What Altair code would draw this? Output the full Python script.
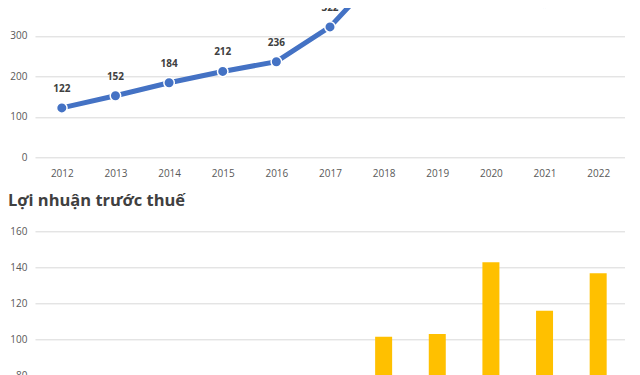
import altair as alt
import pandas as pd

years = [str(y) for y in range(2012, 2023)]

rev_years = ["2012", "2013", "2014", "2015", "2016", "2017", "2018", "2019", "2020", "2021"]
rev_values = [122, 152, 184, 212, 236, 322, 464, 430, 391, 381]

profit_years = ["2018", "2019", "2020", "2021", "2022"]
profit_values = [101.4, 102.9, 142.8, 115.9, 136.7]

top_ticks = [0, 100, 200, 300]
bottom_ticks = [80, 100, 120, 140, 160]
bottom_title = "Lợi nhuận trước thuế"

FONT = "Open Sans"
GRID = "#D9D9D9"
LABEL = "#595959"
BLUE = "#4472C4"
GOLD = "#FFC000"

rev = pd.DataFrame({"year": rev_years, "value": rev_values})
profit = pd.DataFrame({"year": profit_years, "value": profit_values})

x_top = alt.X(
    "year:N",
    scale=alt.Scale(type="point", domain=years, padding=0.5),
    axis=alt.Axis(title=None, labelAngle=0, ticks=False, domain=False, grid=False,
                  labelPadding=11, labelColor=LABEL, labelFontSize=10, labelFont=FONT),
)
y_top = alt.Y(
    "value:Q",
    scale=alt.Scale(domain=[0, 400], nice=False, zero=True),
    axis=alt.Axis(values=top_ticks, title=None, ticks=False, domain=False,
                  gridColor=GRID, labelColor=LABEL, labelPadding=8,
                  labelFontSize=10, labelFont=FONT),
)

base_top = alt.Chart(rev).encode(x=x_top, y=y_top)
line = base_top.mark_line(color=BLUE, strokeWidth=5, clip=True)
pts = base_top.mark_circle(color=BLUE, size=110, opacity=1, stroke="white",
                           strokeWidth=1.5, clip=True)
lbl = base_top.mark_text(dy=-19, fontSize=10, fontWeight="bold", font=FONT,
                         color="#404040", clip=True).encode(text="value:Q")
top = alt.layer(line, pts, lbl).properties(width=590, height=162)

bottom = alt.Chart(profit).mark_bar(color=GOLD, size=17, clip=True).encode(
    x=alt.X("year:N", scale=alt.Scale(domain=years, paddingInner=0, paddingOuter=0),
            axis=None),
    y=alt.Y("value:Q", scale=alt.Scale(domain=[80, 160], nice=False, zero=False),
            axis=alt.Axis(values=bottom_ticks, title=None, ticks=False, domain=False,
                          gridColor=GRID, labelColor=LABEL, labelPadding=8,
                          labelFontSize=10, labelFont=FONT)),
).properties(
    width=590, height=144,
    title=alt.TitleParams(bottom_title, anchor="start", frame="group", dx=-27,
                          fontSize=16.5, fontWeight="bold", font=FONT, color="#404040",
                          baseline="alphabetic", offset=4),
)

chart = alt.vconcat(top, bottom, spacing=74).properties(
    bounds="flush",
    padding={"top": -12.7, "left": 0, "right": 0, "bottom": 0},
    background="white",
).configure_view(stroke=None)

chart.save("out.html", embed_options={"renderer": "svg", "actions": False})
